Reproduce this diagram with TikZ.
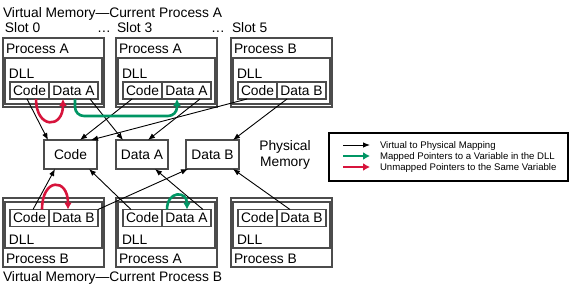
\documentclass[tikz,border=0pt]{standalone}
\usepackage{fontspec}
\setmainfont{Liberation Sans}
\usetikzlibrary{calc,arrows.meta}
\definecolor{mgreen}{RGB}{0,150,100}
\definecolor{mred}{RGB}{215,20,60}
\definecolor{bx}{gray}{0.3}
\begin{document}
\begin{tikzpicture}[x=1pt,y=-1pt,
  every node/.style={inner sep=0pt,outer sep=0pt},
  mainfont/.style={font=\fontsize{13.8}{16}\selectfont},
  procbox/.style={draw=bx,line width=1.4pt,minimum width=101pt,minimum height=69pt},
  dllbox/.style={draw=bx,line width=1.2pt,minimum width=97pt,minimum height=46pt},
  cell/.style={draw=bx,line width=1.1pt,minimum height=17pt,mainfont},
  codecell/.style={cell,minimum width=39pt},
  datacell/.style={cell,minimum width=49pt},
  physbox/.style={draw=bx,line width=1.3pt,minimum height=29pt,mainfont},
  lbl/.style={anchor=base west,mainfont},
  leglbl/.style={anchor=base west,font=\fontsize{9.6}{11}\selectfont},
  map/.style={draw=black,line width=0.9pt,-{Latex[length=7pt,width=5.5pt]}},
  ptr/.style={line width=2.6pt,-{Latex[length=7pt,width=8pt]}},
]
\useasboundingbox (0,0) rectangle (570,285);

% titles
\node[lbl] (ttop) at (3,17.3) {Virtual Memory—Current Process A};
\node[lbl] (s0) at (5,32.7) {Slot 0};
\node[lbl] (e1) at (97,32.7) {…};
\node[lbl] (s3) at (117,32.7) {Slot 3};
\node[lbl] (e2) at (211,32.7) {…};
\node[lbl] (s5) at (232,32.7) {Slot 5};
\node[lbl] (tbot) at (3,281.7) {Virtual Memory—Current Process B};

% top row
\foreach \x/\n/\d/\p in {3/0/A/A,116/3/A/A,231/5/B/B}{
  \node[procbox] (tp\n) at (\x+50.5,72.5) {};
  \node[dllbox] (tl\n) at (\x+50.5,81) {};
  \node[lbl] (tpl\n) at (\x+3,53.3) {Process \p};
  \node[lbl] (tdl\n) at (\x+6,78) {DLL};
  \node[codecell] (tc\n) at (\x+26.5,90.5) {Code};
  \node[datacell] (td\n) at (\x+70.5,90.5) {Data \d};
}

% bottom row
\foreach \x/\n/\d/\p in {3/0/B/B,116/3/A/A,231/5/B/B}{
  \node[procbox] (bp\n) at (\x+50.5,232.5) {};
  \node[dllbox] (bl\n) at (\x+50.5,225) {};
  \node[lbl] (bpl\n) at (\x+3,263) {Process \p};
  \node[lbl] (bdl\n) at (\x+6,244) {DLL};
  \node[codecell] (bc\n) at (\x+26.5,218) {Code};
  \node[datacell] (bd\n) at (\x+70.5,218) {Data \d};
}

% physical memory
\node[physbox,minimum width=53pt] (pc) at (70.5,154.5) {Code};
\node[physbox,minimum width=52pt] (pa) at (142,154.5) {Data A};
\node[physbox,minimum width=53pt] (pb) at (212.5,154.5) {Data B};
\node[mainfont,align=center] (pm) at (285,155) {Physical\\Memory};

% virtual to physical mapping
\draw[map] ($(tc0.south west)+(17,0)$) -- ($(pc.north west)+(4,0)$);
\draw[map] ($(td0.south west)+(41,0)$) -- ($(pa.north west)+(7,0)$);
\draw[map] ($(tc3.south west)+(9,0)$) -- ($(pc.north west)+(36,0)$);
\draw[map] ($(td3.south west)+(38,0)$) -- ($(pa.north west)+(32,0)$);
\draw[map] ($(tc5.south west)+(9,0)$) -- ($(pc.north west)+(47,0)$);
\draw[map] ($(td5.south west)+(10,0)$) -- ($(pb.north west)+(47,0)$);
\draw[map] ($(bc0.north west)+(23,0)$) -- ($(pc.south west)+(11,0)$);
\draw[map] (bd0.north east) -- ($(pb.south west)+(2,0)$);
\draw[map] ($(bc3.north west)+(8,0)$) -- ($(pc.south west)+(45,0)$);
\draw[map] ($(bd3.north west)+(41,0)$) -- ($(pa.south west)+(39,0)$);
\draw[map] ($(bd5.north west)+(13,0)$) -- ($(pb.south west)+(47,0)$);

% pointers
\draw[ptr,mred] ($(tc0.south west)+(26,0)$) .. controls +(0,30) and +(0,30) .. ($(td0.south west)+(14,0)$);
\draw[ptr,mgreen,rounded corners=9pt] ($(td0.south west)+(26,0)$) |- ($(td3.south west)+(15,17)$) -- ($(td3.south west)+(15,0)$);
\draw[ptr,mred] ($(bc0.north west)+(32,0)$) .. controls +(0,-32) and +(0,-32) .. ($(bd0.north west)+(19,0)$);
\draw[ptr,mgreen] ($(bd3.north west)+(5,0)$) .. controls +(0,-19) and +(0,-19) .. ($(bd3.north west)+(25,0)$);

% legend
\node[draw=black,line width=1.2pt,minimum width=239pt,minimum height=48pt] (leg) at (448.5,157) {};
\coordinate (la1) at (343,145); \coordinate (lb1) at (370,145);
\coordinate (la2) at (343,156); \coordinate (lb2) at (370,156);
\coordinate (la3) at (343,167); \coordinate (lb3) at (370,167);
\draw[map] (la1) -- (lb1);
\draw[ptr,mgreen] (la2) -- (lb2);
\draw[ptr,mred] (la3) -- (lb3);
\node[leglbl] (lt1) at (380,148.5) {Virtual to Physical Mapping};
\node[leglbl] (lt2) at (380,159.5) {Mapped Pointers to a Variable in the DLL};
\node[leglbl] (lt3) at (380,170.5) {Unmapped Pointers to the Same Variable};
\end{tikzpicture}
\end{document}
